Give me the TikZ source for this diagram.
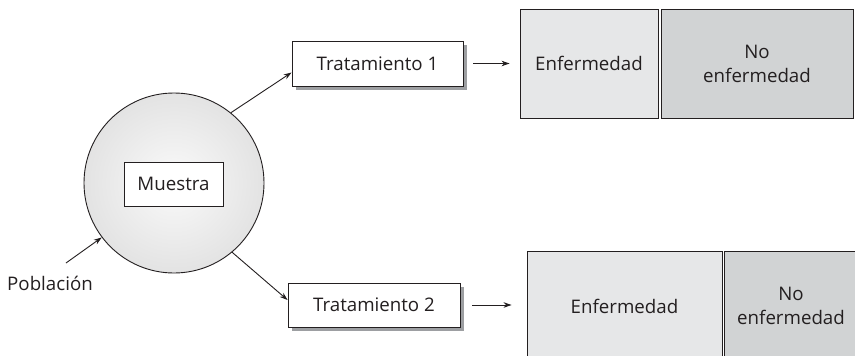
\documentclass[tikz,border=0pt]{standalone}
\usepackage{fontspec}
\setmainfont{Open Sans}
\usetikzlibrary{arrows.meta}
\definecolor{inkline}{HTML}{231F20}
\definecolor{lightfill}{HTML}{E6E7E8}
\definecolor{darkfill}{HTML}{D1D3D4}
\definecolor{shadowgray}{HTML}{9D9FA2}
\begin{document}
\begin{tikzpicture}[x=1pt,y=-1pt,
  every node/.style={font=\fontsize{18.7}{21}\selectfont, text=inkline},
  lbl/.style={draw=inkline, line width=0.9pt, fill=white, inner sep=0pt},
  boxshadow/.style={fill=shadowgray, draw=none, inner sep=0pt},
  cell/.style={draw=inkline, line width=0.9pt, inner sep=0pt, align=center,
               font=\fontsize{18.7}{24}\selectfont},
  arr/.style={draw=inkline, line width=0.9pt, -{Stealth[length=8pt,width=5.5pt]}}]
\useasboundingbox (0,0) rectangle (855,356);

% sample drawn from the population
\node[circle, draw=inkline, line width=0.9pt, minimum size=180pt,
      inner color=gray!4, outer color=gray!22] (circ) at (174,183) {};
\node[lbl, minimum width=99pt, minimum height=44pt] (muestra) at (173.5,184) {Muestra};
\node (pob) at (50,283) {Población};
\coordinate (pobtail) at (66,263);

% treatment arms, each with an offset shadow behind it
\node[boxshadow, minimum width=171pt, minimum height=45pt] (t1shadow) at (381.5,67.5) {};
\node[boxshadow, minimum width=172pt, minimum height=44pt] (t2shadow) at (378,309) {};
\node[lbl, minimum width=171pt, minimum height=45pt] (t1) at (377.5,63.5) {Tratamiento 1};
\node[lbl, minimum width=172pt, minimum height=44pt] (t2) at (374,305) {Tratamiento 2};

% outcome blocks (the lower pair runs past the lower and right edges)
\node[cell, fill=lightfill, minimum width=138pt, minimum height=109pt] (e1) at (589,63.5) {Enfermedad};
\node[cell, fill=darkfill, minimum width=192pt, minimum height=109pt] (n1) at (757,63.5) {No\\enfermedad};
\node[cell, fill=lightfill, minimum width=195pt, minimum height=110pt] (e2) at (624.5,306) {Enfermedad};
\node[cell, fill=darkfill, minimum width=134pt, minimum height=110pt] (n2) at (791,306) {No\\enfermedad};

% connectors
\draw[arr] (pobtail) -- (circ.217);
\draw[arr] (circ.51) -- ([yshift=-9pt]t1.west);
\draw[arr] (circ.310) -- ([yshift=5pt]t2.west);
\draw[arr] ([xshift=10pt]t1.east) -- ([xshift=-10pt]e1.west);
\draw[arr] ([xshift=12pt]t2.east) -- ([xshift=-15pt]t2.east -| e2.west);
\end{tikzpicture}
\end{document}
